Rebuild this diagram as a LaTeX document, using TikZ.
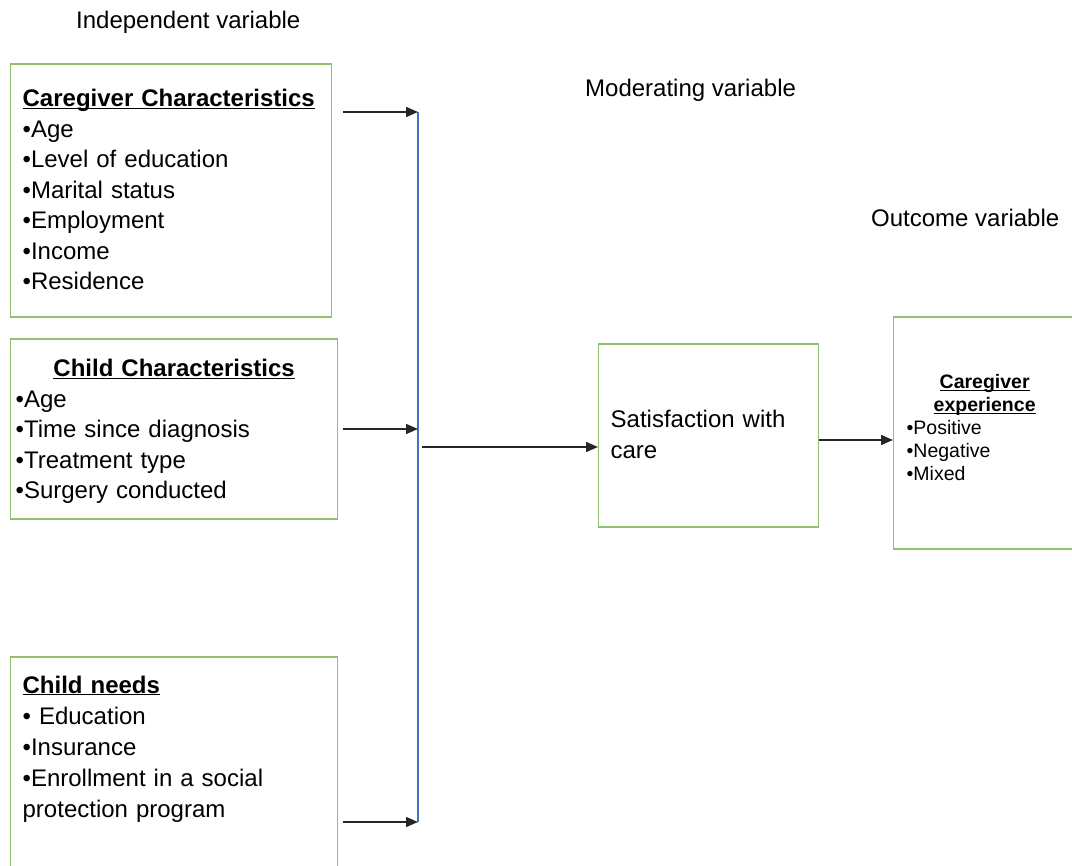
\documentclass[tikz,border=0pt]{standalone}
\usepackage{fontspec}
\setmainfont{Liberation Sans}
\usetikzlibrary{arrows.meta}
\definecolor{boxgreen}{RGB}{143,193,110}
\definecolor{busblue}{RGB}{68,114,196}

\begin{document}
\begin{tikzpicture}[x=1pt,y=-1pt,
      box/.style={draw=boxgreen,line width=1.3pt,align=left,inner ysep=0pt,anchor=base west,
        font=\fontsize{24}{30.5}\selectfont},
      small/.style={font=\fontsize{19.5}{22.8}\selectfont},
      heading/.style={anchor=base west,inner sep=0pt,font=\fontsize{24}{29}\selectfont},
      arrow/.style={-{Triangle[length=12pt,width=10pt]},line width=1.4pt,draw=black!85}]
    \useasboundingbox (0,0) rectangle (1072,866);
    \clip (0,0) rectangle (1072,866);
    \node[heading] (indep) at (76,29) {Independent variable};
    \node[heading] (moder) at (585,97) {Moderating variable};
    \node[heading] (outc) at (871,227) {Outcome variable};
    \node[box,inner xsep=12pt,text width=297pt,text height=43pt,text depth=210pt] (carechar) at (10,107)
      {\underline{\smash{\textbf{Caregiver Characteristics}}}\\•Age\\•Level of education\\•Marital status\\•Employment\\•Income\\•Residence};
    \node[box,inner xsep=5pt,text width=317pt,text height=38pt,text depth=142pt] (childchar) at (10,377)
      {\makebox[\linewidth]{\underline{\smash{\textbf{Child Characteristics}}}}\\•Age\\•Time since diagnosis\\•Treatment type\\•Surgery conducted};
    \node[box,inner xsep=12pt,text width=303pt,text height=36pt,text depth=230pt] (needs) at (10,693)
      {\underline{\smash{\textbf{Child needs}}}\\[1pt]• Education\\•Insurance\\[1pt]•Enrollment in a social\\protection program};
    \node[box,inner xsep=12pt,text width=196pt,text height=84pt,text depth=99pt] (satis) at (598,428)
      {Satisfaction with\\care};
    \node[box,small,inner xsep=13pt,text width=156pt,text height=72pt,text depth=160pt] (experience) at (893,389)
      {\makebox[\linewidth]{\underline{\smash{\textbf{Caregiver}}}}\\\makebox[\linewidth]{\underline{\smash{\textbf{experience}}}}\\•Positive\\•Negative\\•Mixed};
    % blue collecting line
    \coordinate (bustop) at (418,112);
    \coordinate (busbot) at (418,822);
    \coordinate (busout) at (418,447);
    \draw[busblue,line width=1.2pt] (bustop) -- (busbot);
    \draw[arrow] ([xshift=11pt]carechar.east |- bustop) -- (bustop);
    \draw[arrow] ([xshift=5pt]childchar.east) -- (childchar.east -| bustop);
    \draw[arrow] ([xshift=5pt]needs.east |- busbot) -- (busbot);
    \draw[arrow] ([xshift=4pt]busout) -- (busout -| satis.west);
    \draw[arrow] ([yshift=-4.5pt]satis.east) -- ([yshift=-4.5pt]satis.east -| experience.west);
  \end{tikzpicture}
\end{document}
